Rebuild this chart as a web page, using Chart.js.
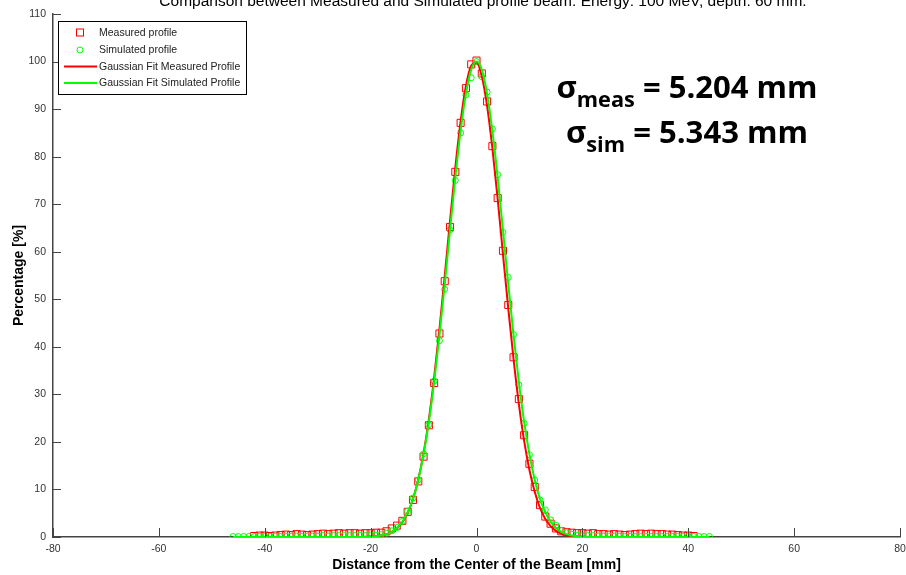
<!DOCTYPE html>
<html>
<head>
<meta charset="utf-8">
<script src="https://cdn.jsdelivr.net/npm/chart.js@4.4.1/dist/chart.umd.min.js"></script>
<style>
  html, body { margin: 0; padding: 0; background: #fff; }
  #wrap { width: 906px; height: 575px; }
</style>
</head>
<body>
<div id="wrap"><canvas id="profileChart" width="906" height="575"></canvas></div>
<script>
// measured profile (red squares)
const measX = [-42, -41, -40, -39, -38, -37, -36, -35, -34, -33, -32, -31, -30, -29, -28, -27, -26, -25, -24, -23, -22, -21,
  -20, -19, -18, -17, -16, -15, -14, -13, -12, -11, -10, -9, -8, -7, -6, -5, -4, -3, -2, -1, 0,
  1, 2, 3, 4, 5, 6, 7, 8, 9, 10, 11, 12, 13, 14, 15, 16, 17, 18, 19, 20,
  21, 22, 23, 24, 25, 26, 27, 28, 29, 30, 31, 32, 33, 34, 35, 36, 37, 38, 39, 40, 41];
const measY = [0.2, 0.3, 0.3, 0.2, 0.3, 0.4, 0.5, 0.4, 0.6, 0.5, 0.4, 0.5, 0.6, 0.7, 0.6, 0.7, 0.8, 0.7, 0.8, 0.8, 0.7, 0.8,
  0.8, 0.9, 0.9, 1.2, 1.8, 2.4, 3.4, 5.3, 7.8, 11.7, 16.9, 23.5, 32.4, 42.8, 53.8, 65.2, 76.8, 87.1, 94.4, 99.4, 100.2,
  97.5, 91.6, 82.2, 71.3, 60.2, 48.8, 37.8, 29.0, 21.4, 15.4, 10.5, 6.7, 4.3, 2.8, 1.8, 1.2, 1.0, 0.9, 0.8, 0.8,
  0.7, 0.8, 0.6, 0.6, 0.5, 0.6, 0.5, 0.4, 0.5, 0.6, 0.7, 0.6, 0.7, 0.6, 0.6, 0.5, 0.5, 0.4, 0.3, 0.3, 0.2];

// simulated profile (green circles)
const simX = [-46, -45, -44, -43, -42, -41, -40, -39, -38, -37, -36, -35, -34, -33, -32, -31, -30, -29, -28, -27, -26, -25, -24, -23, -22, -21,
  -20, -19, -18, -17, -16, -15, -14, -13, -12, -11, -10, -9, -8, -7, -6, -5, -4, -3, -2, -1, 0,
  1, 2, 3, 4, 5, 6, 7, 8, 9, 10, 11, 12, 13, 14, 15, 16, 17, 18, 19, 20,
  21, 22, 23, 24, 25, 26, 27, 28, 29, 30, 31, 32, 33, 34, 35, 36, 37, 38, 39, 40, 41, 42, 43, 44];
const simY = [0.1, 0.1, 0.1, 0.1, 0.1, 0.1, 0.1, 0.1, 0.2, 0.1, 0.2, 0.2, 0.2, 0.1, 0.2, 0.2, 0.2, 0.3, 0.2, 0.3, 0.3, 0.3, 0.3, 0.3, 0.4, 0.3,
  0.4, 0.4, 0.5, 0.8, 1.3, 2.0, 3.3, 5.4, 8.2, 12.0, 17.5, 23.6, 32.8, 41.3, 52.1, 64.6, 75.0, 85.0, 93.0, 96.6, 100.0,
  96.8, 93.6, 85.8, 76.2, 64.1, 54.6, 42.6, 32.0, 23.9, 17.3, 12.0, 7.8, 5.7, 3.6, 2.5, 1.4, 0.9, 0.6, 0.4, 0.3,
  0.3, 0.3, 0.2, 0.2, 0.2, 0.2, 0.2, 0.1, 0.2, 0.1, 0.1, 0.2, 0.1, 0.1, 0.1, 0.1, 0.1, 0.1, 0.1, 0.1, 0.1, 0.1, 0.1, 0.1];

// gaussian fits
const fitMeasX = [-42, -30, -22, -20, -18, -17, -16, -15, -14, -13, -12, -11, -10, -9, -8, -7, -6, -5, -4, -3, -2, -1, 0,
  1, 2, 3, 4, 5, 6, 7, 8, 9, 10, 11, 12, 13, 14, 15, 16, 17, 18, 20, 22, 30, 41];
const fitMeasY = [0, 0, 0, 0.1, 0.3, 0.6, 1.1, 1.9, 3.1, 5.1, 8.0, 12.1, 17.6, 24.7, 33.5, 43.7, 54.9, 66.5, 77.7, 87.4, 94.8, 99.1, 99.8,
  96.9, 90.7, 81.8, 71.1, 59.5, 48.1, 37.4, 28.0, 20.2, 14.1, 9.5, 6.1, 3.8, 2.3, 1.3, 0.7, 0.4, 0.2, 0.05, 0, 0, 0];
const fitSimX = [-46, -30, -22, -20, -18, -17, -16, -15, -14, -13, -12, -11, -10, -9, -8, -7, -6, -5, -4, -3, -2, -1, 0,
  1, 2, 3, 4, 5, 6, 7, 8, 9, 10, 11, 12, 13, 14, 15, 16, 17, 18, 20, 22, 30, 44];
const fitSimY = [0, 0, 0, 0.1, 0.3, 0.6, 1.1, 1.9, 3.2, 5.2, 8.0, 12.0, 17.4, 24.2, 32.6, 42.4, 53.2, 64.5, 75.6, 85.4, 93.2, 98.3, 100,
  98.3, 93.2, 85.4, 75.6, 64.5, 53.2, 42.4, 32.6, 24.2, 17.4, 12.0, 8.0, 5.2, 3.2, 1.9, 1.1, 0.6, 0.3, 0.1, 0, 0, 0];

const xTicks = [-80, -60, -40, -20, 0, 20, 40, 60, 80];
const yTicks = [0, 10, 20, 30, 40, 50, 60, 70, 80, 90, 100, 110];

const chartTitle = 'Comparison between Measured and Simulated profile beam. Energy: 100 MeV, depth: 60 mm.';
const legendLabels = ['Measured profile', 'Simulated profile', 'Gaussian Fit Measured Profile', 'Gaussian Fit Simulated Profile'];
const sigmaNames = ['meas', 'sim'];
const sigmaValues = ['5.204 mm', '5.343 mm'];

const RED = '#ff0000';
const GREEN = '#00ff00';
const AXIS = '#444444';
const FONT = "'Liberation Sans', Arial, sans-serif";

function toPoints(xs, ys) {
    return xs.map((x, i) => ({ x: x, y: ys[i] }));
}

// title, legend box, sigma text and inward tick marks (MATLAB look)
const decorations = {
    id: 'decorations',
    afterDraw(chart) {
        const ctx = chart.ctx;
        const area = chart.chartArea;
        const xs = chart.scales.x;
        const ys = chart.scales.y;
        ctx.save();

        // inward ticks
        ctx.strokeStyle = AXIS;
        ctx.lineWidth = 1;
        xTicks.forEach(v => {
            const px = Math.round(xs.getPixelForValue(v)) + 0.5;
            ctx.beginPath();
            ctx.moveTo(px, area.bottom);
            ctx.lineTo(px, area.bottom - 9);
            ctx.stroke();
        });
        yTicks.forEach(v => {
            const py = Math.round(ys.getPixelForValue(v)) + 0.5;
            ctx.beginPath();
            ctx.moveTo(area.left, py);
            ctx.lineTo(area.left + 8, py);
            ctx.stroke();
        });

        // title, cut off at the top edge like the original export
        ctx.fillStyle = '#000';
        ctx.font = '15.5px ' + FONT;
        ctx.textAlign = 'center';
        ctx.textBaseline = 'alphabetic';
        ctx.fillText(chartTitle, 483, 5.5);

        // legend box
        const lx = 58.5, ly = 21.5, lw = 188, lh = 73;
        ctx.fillStyle = '#fff';
        ctx.fillRect(lx, ly, lw, lh);
        ctx.strokeStyle = '#000';
        ctx.lineWidth = 1;
        ctx.strokeRect(lx, ly, lw, lh);
        const rowY = [32.5, 50, 66.5, 83];
        ctx.font = '10.5px ' + FONT;
        ctx.textAlign = 'left';
        ctx.textBaseline = 'middle';
        legendLabels.forEach((label, i) => {
            const y = rowY[i];
            if (i === 0) {
                ctx.strokeStyle = RED;
                ctx.strokeRect(76.5, y - 3.5, 7, 7);
            } else if (i === 1) {
                ctx.strokeStyle = GREEN;
                ctx.beginPath();
                ctx.arc(80, y, 3, 0, Math.PI * 2);
                ctx.stroke();
            } else {
                ctx.strokeStyle = i === 2 ? RED : GREEN;
                ctx.lineWidth = 2;
                ctx.beginPath();
                ctx.moveTo(64, y);
                ctx.lineTo(97, y);
                ctx.stroke();
                ctx.lineWidth = 1;
            }
            ctx.fillStyle = '#222';
            ctx.fillText(label, 99, y + 0.5);
        });

        // sigma annotation
        const baseY = [97.5, 143];
        const targetW = [261, 242];
        const bigFont = 'bold 30px "Open Sans", sans-serif';
        const subFont = 'bold 21px "Open Sans", sans-serif';
        ctx.fillStyle = '#000';
        ctx.textBaseline = 'alphabetic';
        sigmaNames.forEach((name, i) => {
            const rest = ' = ' + sigmaValues[i];
            ctx.font = bigFont;
            const wSig = ctx.measureText('\u03c3').width;
            const wRest = ctx.measureText(rest).width;
            ctx.font = subFont;
            const wSub = ctx.measureText(name).width;
            const total = wSig + wSub + wRest;
            const k = targetW[i] / total;
            ctx.save();
            ctx.translate(687 - targetW[i] / 2, baseY[i]);
            ctx.scale(k, 1);
            ctx.font = bigFont;
            ctx.fillText('\u03c3', 0, 0);
            ctx.font = subFont;
            ctx.fillText(name, wSig, 9);
            ctx.font = bigFont;
            ctx.fillText(rest, wSig + wSub, 0);
            ctx.restore();
        });

        ctx.restore();
    }
};

const ctx = document.getElementById('profileChart').getContext('2d');
new Chart(ctx, {
    type: 'scatter',
    data: {
        datasets: [
            {
                label: legendLabels[3],
                data: toPoints(fitSimX, fitSimY),
                showLine: true,
                borderColor: GREEN,
                borderWidth: 2,
                pointRadius: 0,
                cubicInterpolationMode: 'monotone',
                order: 0
            },
            {
                label: legendLabels[2],
                data: toPoints(fitMeasX, fitMeasY),
                showLine: true,
                borderColor: RED,
                borderWidth: 2,
                pointRadius: 0,
                cubicInterpolationMode: 'monotone',
                order: 1
            },
            {
                label: legendLabels[1],
                data: toPoints(simX, simY),
                pointStyle: 'circle',
                pointRadius: 3,
                borderColor: GREEN,
                backgroundColor: 'rgba(0,0,0,0)',
                borderWidth: 1,
                order: 2
            },
            {
                label: legendLabels[0],
                data: toPoints(measX, measY),
                pointStyle: 'rect',
                pointRadius: 5,
                borderColor: RED,
                backgroundColor: 'rgba(0,0,0,0)',
                borderWidth: 1,
                order: 3
            }
        ]
    },
    options: {
        responsive: false,
        animation: false,
        events: [],
        layout: { padding: { top: 14, right: 5, left: 0, bottom: 0 } },
        plugins: {
            legend: { display: false },
            tooltip: { enabled: false }
        },
        scales: {
            x: {
                type: 'linear',
                min: -80,
                max: 80,
                afterBuildTicks: s => { s.ticks = xTicks.map(v => ({ value: v })); },
                afterFit: s => { s.height = 38; s.paddingLeft = 0; s.paddingRight = 0; },
                grid: { display: false, drawTicks: false },
                border: { display: true, color: AXIS, width: 1.5 },
                ticks: { font: { family: FONT, size: 10.5 }, color: '#333', padding: 6, maxRotation: 0, autoSkip: false },
                title: {
                    display: true,
                    text: 'Distance from the Center of the Beam [mm]',
                    font: { family: FONT, size: 14, weight: 'bold' },
                    color: '#000',
                    padding: { top: 0, bottom: 1 }
                }
            },
            y: {
                type: 'linear',
                min: 0,
                max: 110,
                afterBuildTicks: s => { s.ticks = yTicks.map(v => ({ value: v })); },
                afterFit: s => { s.width = 53; s.paddingTop = 0; s.paddingBottom = 0; },
                grid: { display: false, drawTicks: false },
                border: { display: true, color: AXIS, width: 1.5 },
                ticks: { font: { family: FONT, size: 10.5 }, color: '#333', padding: 7, autoSkip: false },
                title: {
                    display: true,
                    text: 'Percentage [%]',
                    font: { family: FONT, size: 14, weight: 'bold' },
                    color: '#000',
                    padding: { top: 11, bottom: 0 }
                }
            }
        }
    },
    plugins: [decorations]
});
</script>
</body>
</html>
